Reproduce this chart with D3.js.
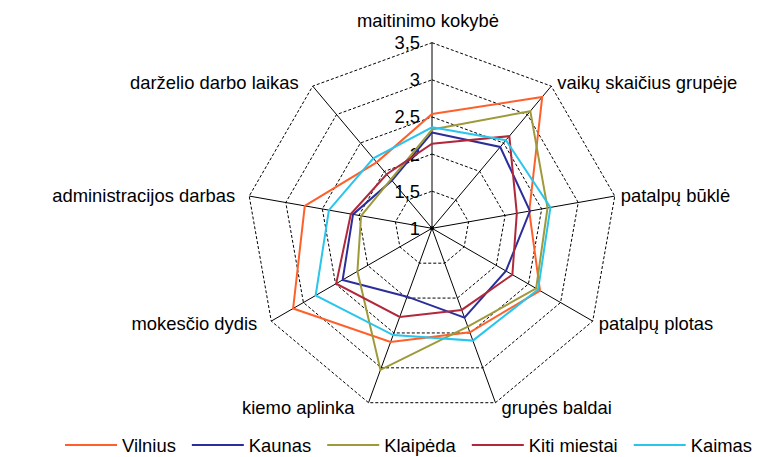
<!DOCTYPE html>
<html>
<head>
<meta charset="utf-8">
<script src="https://cdn.jsdelivr.net/npm/d3@7"></script>
<style>
body {
  margin: 0;
  padding: 0;
  background: #fff;
}
text {
  font-family: "Liberation Sans", Arial, sans-serif;
  font-size: 18.4px;
  fill: #000;
}
.grid polygon {
  fill: none;
  stroke: #000;
  stroke-width: 1;
  stroke-dasharray: 3,2;
}
.spokes line {
  stroke: #000;
  stroke-width: 1;
}
.series path {
  fill: none;
  stroke-width: 2;
}
</style>
</head>
<body>
<svg></svg>

<script>
var categories = [
  'maitinimo kokybė',
  'vaikų skaičius grupėje',
  'patalpų būklė',
  'patalpų plotas',
  'grupės baldai',
  'kiemo aplinka',
  'mokesčio dydis',
  'administracijos darbas',
  'darželio darbo laikas'
];

var seriesNames = ['Vilnius', 'Kaunas', 'Klaipėda', 'Kiti miestai', 'Kaimas'];

var vilnius = [2.54, 3.31, 2.33, 2.68, 2.49, 2.63, 3.16, 2.74, 2.16];
var kaunas = [2.29, 2.43, 2.34, 2.15, 2.28, 1.98, 2.39, 2.08, 1.84];
var klaipeda = [2.33, 3.06, 2.58, 2.62, 2.41, 3.03, 2.16, 1.97, 1.86];
var kitiMiestai = [2.14, 2.62, 2.16, 2.25, 2.17, 2.27, 2.49, 2.11, 1.95];
var kaimas = [2.36, 2.55, 2.62, 2.65, 2.61, 2.53, 2.81, 2.41, 2.23];

var tickValues = [1, 1.5, 2, 2.5, 3, 3.5];

var colors = ['#ff5f2a', '#2b2e9a', '#9e9a3a', '#b0283a', '#29c5ec'];

var width = 759,
  height = 457,
  cx = 432,
  cy = 228.3,
  R = 185.6;

var svg = d3.select('svg')
  .attr('width', width)
  .attr('height', height);

var r = d3.scaleLinear().domain([1, 3.5]).range([0, R]);

var angle = d3.scalePoint()
  .domain(d3.range(categories.length + 1))
  .range([0, 2 * Math.PI]);

function pt(i, v) {
  var a = angle(i);
  return [cx + Math.sin(a) * r(v), cy - Math.cos(a) * r(v)];
}

var g = svg.append('g');

// grid polygons
g.append('g')
  .attr('class', 'grid')
  .selectAll('polygon')
  .data(tickValues.slice(1))
  .enter().append('polygon')
  .attr('points', function(t) {
    return categories.map(function(c, i) {
      return pt(i, t).join(',');
    }).join(' ');
  });

// spokes
g.append('g')
  .attr('class', 'spokes')
  .selectAll('line')
  .data(categories)
  .enter().append('line')
  .attr('x1', cx)
  .attr('y1', cy)
  .attr('x2', function(d, i) { return pt(i, 3.5)[0]; })
  .attr('y2', function(d, i) { return pt(i, 3.5)[1]; });

g.append('circle')
  .attr('cx', cx)
  .attr('cy', cy)
  .attr('r', 2)
  .attr('fill', '#000');

// tick labels
g.append('g')
  .selectAll('text')
  .data(tickValues)
  .enter().append('text')
  .attr('x', cx - 12)
  .attr('y', function(t) { return cy - r(t); })
  .attr('text-anchor', 'end')
  .attr('dominant-baseline', 'central')
  .text(function(t) { return String(t).replace('.', ','); });

// category labels
g.append('g')
  .selectAll('text')
  .data(categories)
  .enter().append('text')
  .each(function(d, i) {
    var a = angle(i),
      s = Math.sin(a),
      c = Math.cos(a),
      p = pt(i, 3.5),
      anchor = s > 0.1 ? 'start' : (s < -0.1 ? 'end' : 'middle'),
      dx = s > 0.1 ? 6 : (s < -0.1 ? -14 : -4),
      dy = (i === 0) ? -22 : -5 * c;
    d3.select(this)
      .attr('x', p[0] + dx)
      .attr('y', p[1] + dy)
      .attr('text-anchor', anchor)
      .attr('dominant-baseline', 'central')
      .text(d);
  });

// series
var allSeries = [vilnius, kaunas, klaipeda, kitiMiestai, kaimas];

var radar = d3.lineRadial()
  .angle(function(d, i) { return angle(i); })
  .radius(function(d) { return r(d); })
  .curve(d3.curveLinearClosed);

g.append('g')
  .attr('class', 'series')
  .attr('transform', 'translate(' + cx + ',' + cy + ')')
  .selectAll('path')
  .data(allSeries)
  .enter().append('path')
  .attr('stroke', function(d, i) { return colors[i]; })
  .attr('d', radar);

// legend
var legend = svg.append('g').attr('transform', 'translate(0,445)');
var lx = 65;
seriesNames.forEach(function(name, i) {
  legend.append('line')
    .attr('x1', lx).attr('x2', lx + 52)
    .attr('y1', 0).attr('y2', 0)
    .attr('stroke', colors[i])
    .attr('stroke-width', 2);
  var t = legend.append('text')
    .attr('x', lx + 57)
    .attr('y', 0)
    .attr('dominant-baseline', 'central')
    .text(name);
  lx += 57 + t.node().getComputedTextLength() + 16;
});
</script>
</body>
</html>
